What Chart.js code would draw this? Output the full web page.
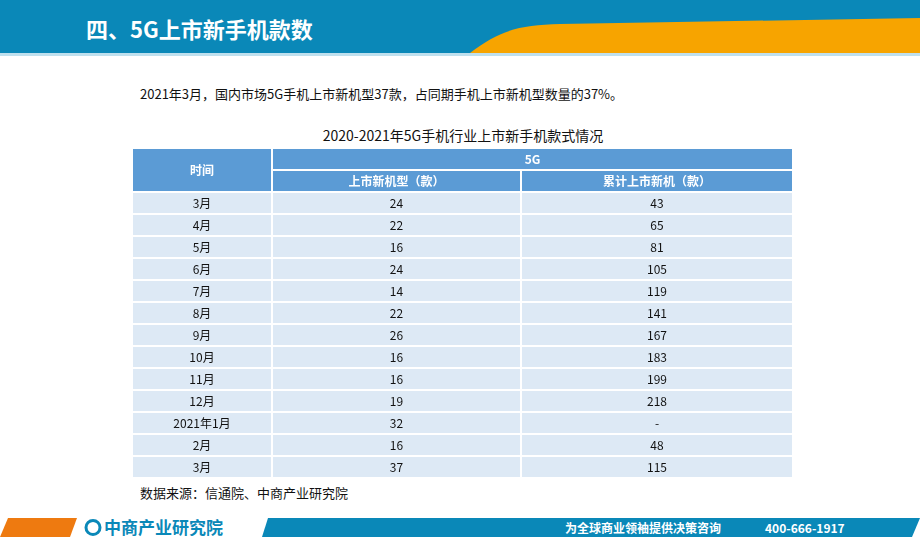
<!DOCTYPE html>
<html><head><meta charset="utf-8">
<script src="https://cdn.jsdelivr.net/npm/chart.js@4"></script>
<style>
body{margin:0;width:920px;height:547px;position:relative;background:#fff;font-family:"Noto Sans CJK SC",sans-serif;overflow:hidden}
.abs{position:absolute}
#title{left:86px;top:12px;color:#fff;font-size:22px;font-weight:bold}
#sub{left:140px;top:84px;font-size:13px;color:#111}
#cap{left:0;width:920px;text-align:center;top:125px;font-size:14px;color:#111;padding-left:6px;box-sizing:border-box}
#src{left:140px;top:483px;font-size:13px;color:#111}
#wrap{left:132px;top:148px;width:661px;height:330px}
</style></head><body>
<svg class="abs" style="left:0;top:0" width="920" height="60">
<rect x="0" y="0" width="920" height="53" fill="#0a88b8"/>
<path d="M470,53 C500,30 520,25 560,24 L920,18 L920,53 Z" fill="#f7a400"/>
<rect x="0" y="53" width="920" height="3" fill="#bfe0ee"/>
</svg>
<div id="title" class="abs">四、5G上市新手机款数</div>
<div id="sub" class="abs">2021年3月，国内市场5G手机上市新机型37款，占同期手机上市新机型数量的37%。</div>
<div id="cap" class="abs">2020-2021年5G手机行业上市新手机款式情况</div>
<div id="wrap" class="abs"><canvas id="c"></canvas></div>
<div id="src" class="abs">数据来源：信通院、中商产业研究院</div>
<svg class="abs" style="left:0;top:515px" width="920" height="25">
<polygon points="8,3 77,3 70,22 0,22" fill="#ee7a10"/>
<polygon points="268,3 920,3 912,22 262,22" fill="#0a88b8"/>
<circle cx="93" cy="12.5" r="7" fill="none" stroke="#0a88b8" stroke-width="3"/>
<text x="104" y="19" font-size="17" font-weight="bold" fill="#0a88b8" font-family="Noto Sans CJK SC">中商产业研究院</text>
<text x="565" y="18" font-size="12" font-weight="bold" fill="#fff" font-family="Noto Sans CJK SC">为全球商业领袖提供决策咨询</text>
<text x="765" y="18" font-size="12" font-weight="bold" fill="#fff" font-family="Noto Sans CJK SC">400-666-1917</text>
</svg>
<script>
const months = ["3月","4月","5月","6月","7月","8月","9月","10月","11月","12月","2021年1月","2月","3月"];
const newModels = [24,22,16,24,14,22,26,16,16,19,32,16,37];
const cumulative = ["43","65","81","105","119","141","167","183","199","218","-","48","115"];
const headerTop = ["时间","5G"];
const headerSub = ["上市新机型（款）","累计上市新机（款）"];
const colEdges = [0,140,389,661];
const rowKeys = ["h1","h2"].concat(months.map((m,i)=>"r"+i));

const tablePlugin = {
  id: "table",
  beforeDatasetsDraw(chart) {
    const ctx = chart.ctx, x = chart.scales.x, y = chart.scales.y;
    const half = (y.getPixelForValue(1) - y.getPixelForValue(0)) / 2;
    const rowTop = i => y.getPixelForValue(i) - half, rowBot = i => y.getPixelForValue(i) + half;
    const cx = (a,b) => (x.getPixelForValue(colEdges[a]) + x.getPixelForValue(colEdges[b])) / 2;
    const cell = (c0,c1,r0,r1,fill,text,color,bold) => {
      const l = x.getPixelForValue(colEdges[c0]), rr = x.getPixelForValue(colEdges[c1]);
      const t = rowTop(r0), b = rowBot(r1);
      ctx.fillStyle = fill; ctx.fillRect(l,t,rr-l,b-t);
      ctx.strokeStyle = "#fff"; ctx.lineWidth = 1; ctx.strokeRect(l+0.5,t+0.5,rr-l-1,b-t-1);
      ctx.fillStyle = color; ctx.font = (bold?"bold ":"") + "12px 'Noto Sans CJK SC'";
      ctx.textAlign = "center"; ctx.textBaseline = "middle";
      ctx.fillText(text, cx(c0,c1), (t+b)/2);
    };
    ctx.save();
    const hd = "#5b9bd5";
    cell(0,1,0,1,hd,headerTop[0],"#fff",true);
    cell(1,3,0,0,hd,headerTop[1],"#fff",true);
    cell(1,2,1,1,hd,headerSub[0],"#fff",true);
    cell(2,3,1,1,hd,headerSub[1],"#fff",true);
    months.forEach((m,i) => {
      const r = i + 2, bg = "#dde9f5";
      cell(0,1,r,r,bg,m,"#111");
      cell(1,2,r,r,bg,String(newModels[i]),"#111");
      cell(2,3,r,r,bg,cumulative[i],"#111");
    });
    ctx.restore();
  }
};

new Chart(document.getElementById("c"), {
  type: "bar",
  data: { labels: rowKeys, datasets: [{ data: [], backgroundColor: "transparent" }] },
  options: {
    indexAxis: "y", responsive: true, maintainAspectRatio: false, animation: false,
    layout: { padding: 0 },
    plugins: { legend: { display: false }, tooltip: { enabled: false } },
    scales: {
      x: { type: "linear", min: 0, max: 661, display: false },
      y: { type: "category", offset: true, display: false }
    }
  },
  plugins: [tablePlugin]
});
</script>
</body></html>
